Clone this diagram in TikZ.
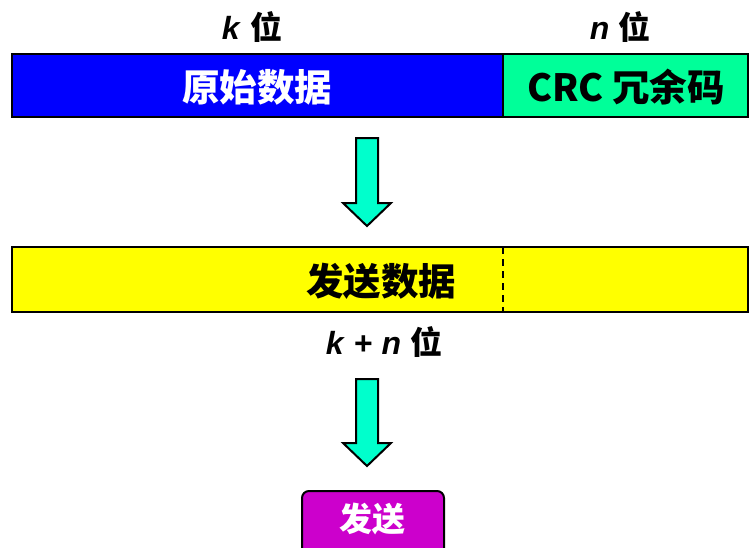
\documentclass[tikz,border=0pt]{standalone}
\usepackage{fontspec}
\setmainfont{Liberation Sans}
\newfontfamily\cjk{Noto Sans CJK SC}
\definecolor{dblue}{HTML}{0000FF}
\definecolor{crcgreen}{HTML}{00FF99}
\definecolor{arrowcyan}{HTML}{00FFCC}
\definecolor{myyellow}{HTML}{FFFF00}
\definecolor{mymag}{HTML}{CC00CC}
\tikzset{
  bar/.style={draw=black, line width=2.8pt},
  bigtxt/.style={font=\cjk\bfseries\fontsize{37.5}{42}\selectfont, inner sep=0pt},
  lbltxt/.style={font=\bfseries\fontsize{32}{36}\selectfont, inner sep=0pt},
  fatarrow/.style={draw=black, line width=2pt, fill=arrowcyan, line join=miter},
}
\begin{document}
\begin{tikzpicture}[x=1pt,y=-1pt]
\useasboundingbox (0,0) rectangle (750,547);
% top bar
\fill[dblue] (12,54) rectangle (503,117);
\fill[crcgreen] (503,54) rectangle (748,117);
\draw[bar] (12,54) rectangle (748,117);
\draw[line width=2.2pt] (503,54) -- (503,117);
\node[bigtxt, text=white] (orig) at (257,87) {原始数据};
\node[bigtxt, text=black] (crc) at (626,87) {CRC 冗余码};
\node[lbltxt] (klbl) at (252,27) {\textit{k} {\cjk 位}};
\node[lbltxt] (nlbl) at (620,27) {\textit{n} {\cjk 位}};
% arrow 1
\draw[fatarrow] (356,138) -- (378,138) -- (378,203) -- (391,203) -- (367,226) -- (343,203) -- (356,203) -- cycle;
% yellow bar
\fill[myyellow] (12,247) rectangle (748,312);
\draw[bar] (12,247) rectangle (748,312);
\draw[line width=2.4pt, dash pattern=on 7pt off 5pt] (503,247) -- (503,312);
\node[bigtxt, text=black] (send) at (381,281) {发送数据};
\node[lbltxt] (knlbl) at (384,342) {\textit{k} + \textit{n} {\cjk 位}};
% arrow 2
\draw[fatarrow] (356,379) -- (378,379) -- (378,443) -- (391,443) -- (367,466) -- (343,443) -- (356,443) -- cycle;
% send button
\node[draw=black, line width=2pt, fill=mymag, rounded corners=7pt, minimum width=142pt, minimum height=66pt, anchor=north west, inner sep=0pt] (btn) at (301,490) {};
\node[font=\cjk\bfseries\fontsize{33}{38}\selectfont, text=white, inner sep=0pt] (btntxt) at (372,519) {发送};
\end{tikzpicture}
\end{document}
